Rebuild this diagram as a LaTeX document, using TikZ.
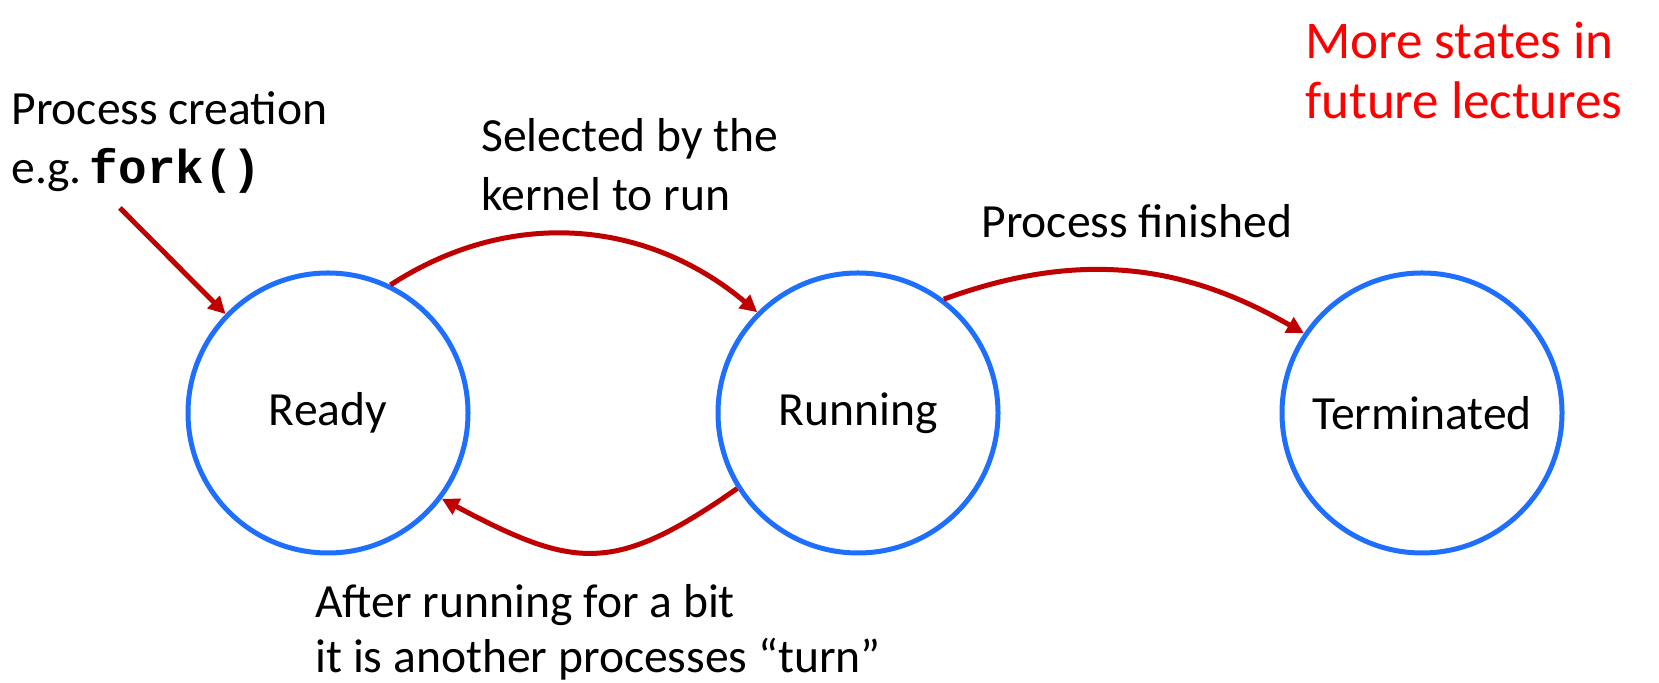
\documentclass[tikz,border=0pt]{standalone}
\usepackage{fontspec}
\setmainfont{Carlito}
\newfontfamily\codefont{Liberation Mono}
\usetikzlibrary{arrows.meta}
\definecolor{stateblue}{HTML}{1F6FFF}
\definecolor{flowred}{HTML}{C00000}
\definecolor{notered}{HTML}{FF0000}
\tikzset{>={Triangle[length=8.5pt,width=8.5pt]},
  every node/.style={font=\fontsize{23.8}{29.5}\selectfont},
  state/.style={circle,draw=stateblue,line width=2.5pt,minimum size=140pt,inner sep=0pt},
  flow/.style={->,draw=flowred,line width=2.5pt},
  caption/.style={anchor=west,align=left,inner sep=0pt}}
\begin{document}
\begin{tikzpicture}[x=.5pt,y=.5pt]
\useasboundingbox (0,0) rectangle (1659,683);
\node[state] (ready) at (328,270) {Ready};
\node[state] (running) at (858,270) {Running};
\node[state] (terminated) at (1422,270) {Terminated};
\coordinate (spawn) at (120,475);
\node[caption] (creation) at (11,540.5) {Process creation\\e.g.\,{\codefont\bfseries fork()}};
\node[caption] (selected) at (481,518.5) {Selected by the\\kernel to run};
\node[caption] (finished) at (981,462) {Process finished};
\node[caption,font=\fontsize{23.8}{27.5}\selectfont] (preempt) at (315,51) {After running for a bit\\it is another processes “turn”};
\node[caption,text=notered,font=\fontsize{26.5}{30}\selectfont] (later) at (1305,613) {More states in\\future lectures};
\draw[flow] (spawn) -- (ready.136);
\draw[flow] (ready.64) to[out=33,in=140] (running.135);
\draw[flow] (running.53) to[out=20,in=150] (terminated.146);
\draw[flow] (running.212) to[out=215,in=-28,looseness=1.3] (ready.-37);
\end{tikzpicture}
\end{document}
